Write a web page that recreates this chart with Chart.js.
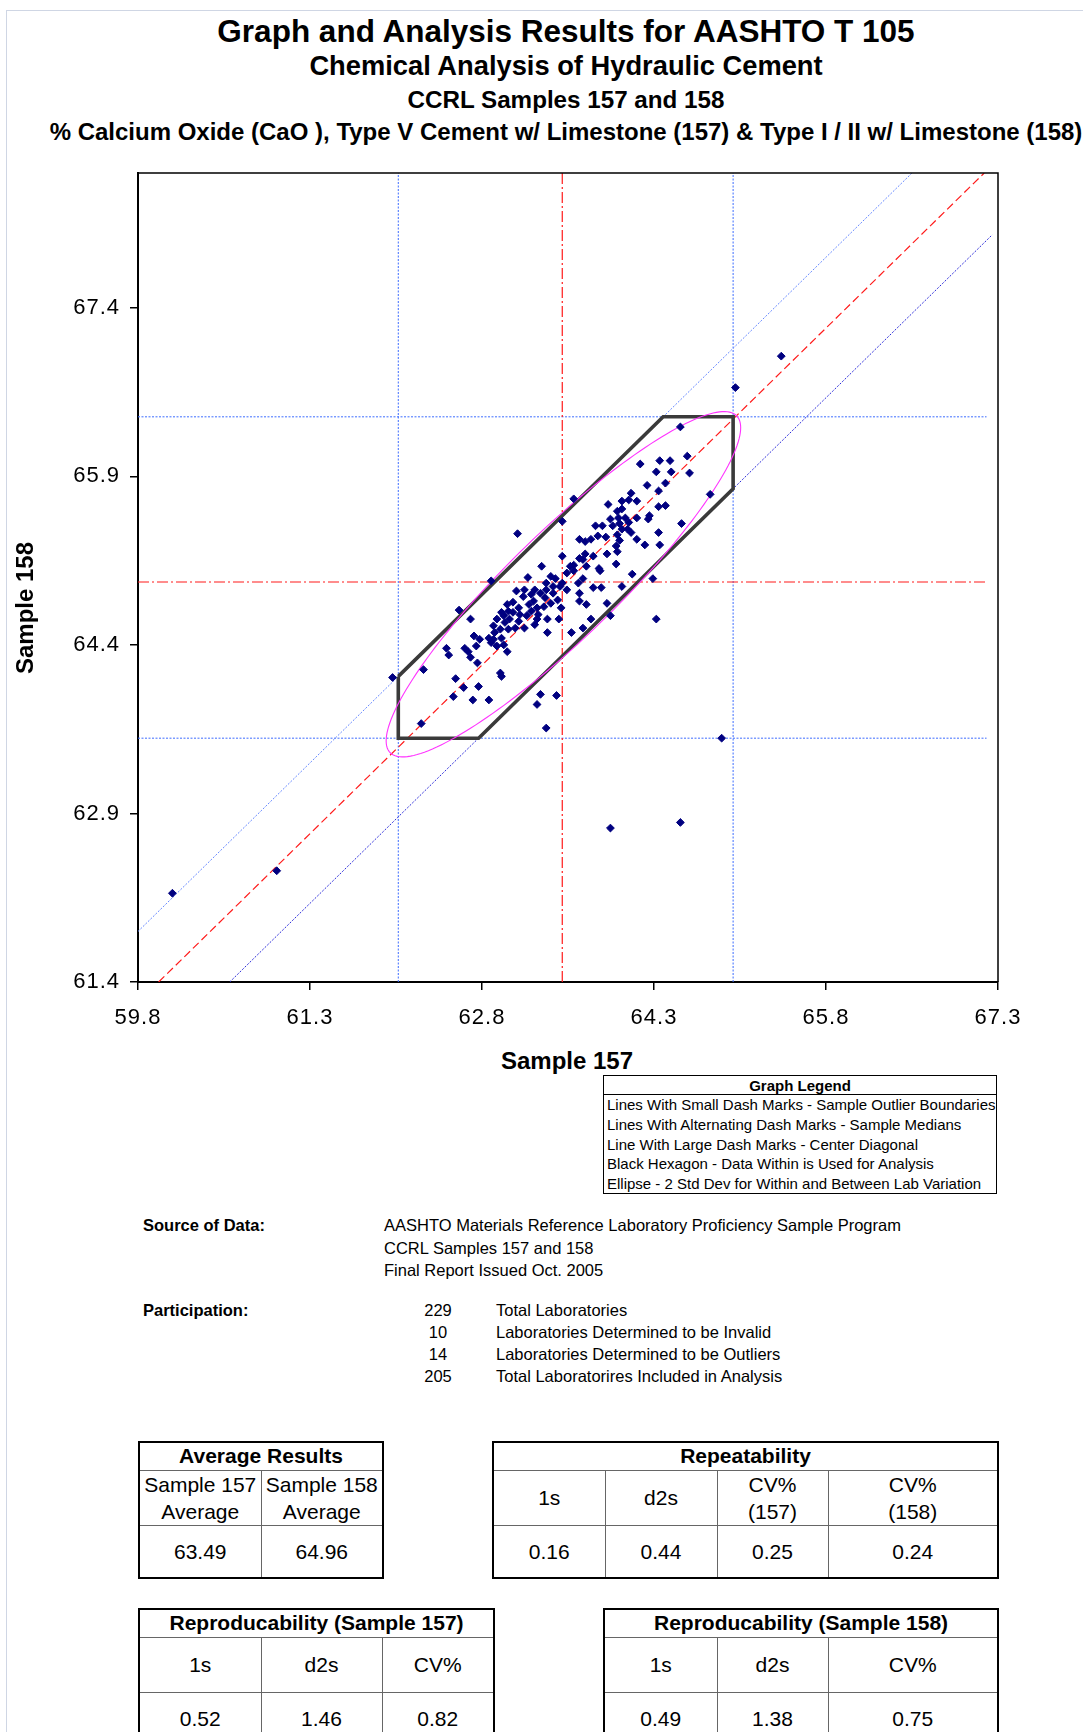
<!DOCTYPE html>
<html>
<head>
<meta charset="utf-8">
<script src="https://cdn.jsdelivr.net/npm/chart.js@4.4.1/dist/chart.umd.min.js"></script>
<style>
html,body{margin:0;padding:0;background:#fff;overflow:hidden;width:1083px;height:1732px;}
body{position:relative;font-family:'Liberation Sans',Arial,sans-serif;color:#000;}
.frame{position:absolute;left:6px;top:10px;width:1200px;height:1900px;border-left:1px solid #cfd6e4;border-top:1px solid #cfd6e4;}
.t{position:absolute;left:0;width:1132px;text-align:center;font-weight:bold;white-space:nowrap;}
.abs{position:absolute;white-space:nowrap;}
#chart{position:absolute;left:0;top:0;}
.axt{position:absolute;width:200px;height:30px;line-height:30px;text-align:center;font-weight:bold;font-size:24px;white-space:nowrap;}
#legend{position:absolute;left:603px;top:1075px;width:394px;height:119px;border:1px solid #000;box-sizing:border-box;font-size:15px;}
#legend .hd{height:19px;line-height:19px;text-align:center;font-weight:bold;border-bottom:1px solid #000;box-sizing:border-box;}
#legend .row{height:19.8px;line-height:19.8px;padding-left:3px;white-space:nowrap;}
table.tb{position:absolute;border-collapse:collapse;table-layout:fixed;border:2px solid #000;}
table.tb td, table.tb th{border:1px solid #666;text-align:center;padding:0;font-size:21px;line-height:27px;font-weight:normal;overflow:hidden;white-space:nowrap;}
table.tb th{font-weight:bold;line-height:24px;}
</style>
</head>
<body>
<div class="frame"></div>
<div class="t" style="top:13px;height:36px;line-height:36px;font-size:31.5px;">Graph and Analysis Results for AASHTO T 105</div>
<div class="t" style="top:50px;height:32px;line-height:32px;font-size:27.3px;">Chemical Analysis of Hydraulic Cement</div>
<div class="t" style="top:83.5px;height:32px;line-height:32px;font-size:24.2px;">CCRL Samples 157 and 158</div>
<div class="t" style="top:115.5px;height:32px;line-height:32px;font-size:24px;">% Calcium Oxide (CaO ), Type V Cement w/ Limestone (157) &amp; Type I / II w/ Limestone (158)</div>

<canvas id="chart" width="1083" height="1040"></canvas>
<div class="axt" style="left:-75px;top:593px;transform:rotate(-90deg);">Sample 158</div>
<div class="axt" style="left:467px;top:1046px;">Sample 157</div>

<div id="legend">
  <div class="hd">Graph Legend</div>
  <div class="row">Lines With Small Dash Marks - Sample Outlier Boundaries</div>
  <div class="row">Lines With Alternating Dash Marks - Sample Medians</div>
  <div class="row">Line With Large Dash Marks - Center Diagonal</div>
  <div class="row">Black Hexagon - Data Within is Used for Analysis</div>
  <div class="row">Ellipse - 2 Std Dev for Within and Between Lab Variation</div>
</div>

<div class="abs" style="left:143px;top:1214px;line-height:22.5px;font-size:16.5px;font-weight:bold;">Source of Data:</div>
<div class="abs" style="left:384px;top:1214px;line-height:22.5px;font-size:16.5px;">AASHTO Materials Reference Laboratory Proficiency Sample Program<br>CCRL Samples 157 and 158<br>Final Report Issued Oct. 2005</div>
<div class="abs" style="left:143px;top:1299px;line-height:22px;font-size:16.5px;font-weight:bold;">Participation:</div>
<div class="abs" id="partNums" style="left:408px;top:1299px;width:60px;text-align:center;line-height:22px;font-size:16.5px;"></div>
<div class="abs" id="partText" style="left:496px;top:1299px;line-height:22px;font-size:16.5px;"></div>

<table class="tb" id="tAvg" style="left:138px;top:1441px;width:244px;">
  <colgroup><col style="width:122px"><col style="width:122px"></colgroup>
  <tr style="height:28px"><th colspan="2">Average Results</th></tr>
  <tr style="height:55px"><td>Sample 157<br>Average</td><td>Sample 158<br>Average</td></tr>
  <tr style="height:53px" class="vals"></tr>
</table>
<table class="tb" id="tRep" style="left:492px;top:1441px;width:505px;">
  <colgroup><col style="width:112px"><col style="width:112px"><col style="width:111px"><col style="width:170px"></colgroup>
  <tr style="height:28px"><th colspan="4">Repeatability</th></tr>
  <tr style="height:55px"><td>1s</td><td>d2s</td><td>CV%<br>(157)</td><td>CV%<br>(158)</td></tr>
  <tr style="height:53px" class="vals"></tr>
</table>
<table class="tb" id="tR157" style="left:138px;top:1608px;width:355px;">
  <colgroup><col style="width:122px"><col style="width:121px"><col style="width:112px"></colgroup>
  <tr style="height:28px"><th colspan="3">Reproducability (Sample 157)</th></tr>
  <tr style="height:55px"><td>1s</td><td>d2s</td><td>CV%</td></tr>
  <tr style="height:53px" class="vals"></tr>
</table>
<table class="tb" id="tR158" style="left:603px;top:1608px;width:394px;">
  <colgroup><col style="width:113px"><col style="width:111px"><col style="width:170px"></colgroup>
  <tr style="height:28px"><th colspan="3">Reproducability (Sample 158)</th></tr>
  <tr style="height:55px"><td>1s</td><td>d2s</td><td>CV%</td></tr>
  <tr style="height:53px" class="vals"></tr>
</table>

<script>
// ---------------- data ----------------
const sample157 = [
64.53,64.18,64.35,64.44,64.59,64.32,64.45,64.61,64.24,64.40,
64.34,64.79,64.10,63.60,63.90,64.02,64.08,64.15,64.02,64.34,
64.40,63.98,63.92,63.99,64.05,64.15,64.26,64.25,63.50,63.79,
63.85,64.00,64.54,64.07,64.10,63.98,64.34,63.81,63.88,63.65,
63.70,63.75,64.00,64.15,63.97,64.22,64.35,63.98,63.89,63.70,
63.77,63.50,63.65,63.60,63.71,63.82,63.97,63.83,63.32,63.54,
63.60,64.11,64.29,63.68,63.44,63.36,63.77,63.84,64.02,63.65,
63.36,
63.42,63.48,63.64,63.57,63.68,63.94,64.08,64.02,
63.20,62.88,63.10,63.17,63.23,63.16,63.21,63.25,63.28,63.34,
63.40,63.46,63.49,63.47,63.37,63.28,63.37,63.12,63.07,63.03,
62.97,63.04,63.12,63.00,62.93,62.90,62.96,63.03,63.09,63.17,
62.70,62.73,62.86,62.90,62.97,62.93,63.02,62.65,62.75,62.70,
62.76,62.96,62.97,62.77,63.71,63.65,63.75,63.68,63.89,63.31,
63.26,63.42,63.35,63.19,63.29,63.23,
62.99,63.07,63.02,63.13,62.91,62.88,62.99,62.78,63.26,63.50,63.54,63.40,
62.60,62.49,62.51,62.68,62.29,62.02,62.57,62.64,62.55,62.72,
62.86,63.31,63.45,63.28,63.36,62.27,
63.11,64.32,63.92,64.89,63.58,65.41,65.01,60.10,61.01,63.92,64.53
];
const sample158 = [
66.34,66.01,66.04,66.04,66.08,65.94,65.94,65.93,65.82,65.84,
65.77,65.74,65.75,65.70,65.65,65.68,65.69,65.68,65.61,65.63,
65.64,65.59,65.52,65.53,65.53,65.53,65.55,65.52,65.50,65.46,
65.46,65.48,65.48,65.43,65.40,65.38,65.40,65.37,65.36,65.34,
65.32,65.34,65.33,65.34,65.28,65.29,65.29,65.23,65.21,65.21,
65.19,65.19,65.17,65.11,65.10,65.08,65.12,65.06,65.10,65.04,
65.06,65.03,64.99,64.99,64.99,64.95,64.91,64.91,64.92,64.86,
64.89,
64.86,64.92,64.95,65.10,65.16,65.46,65.49,65.43,
65.00,64.97,64.88,64.89,64.85,64.83,64.76,64.79,64.73,64.74,
64.77,64.80,64.73,64.63,64.63,64.63,64.51,64.73,64.69,64.70,
64.69,64.63,64.61,64.60,64.63,64.57,64.54,64.54,64.55,64.55,
64.63,64.48,64.46,64.45,64.46,64.39,64.34,64.37,64.39,64.29,
64.24,64.15,64.12,64.03,64.76,64.79,64.63,64.55,64.77,64.86,
64.89,64.92,64.82,64.66,64.67,64.70,
64.66,64.78,64.76,64.67,64.51,64.42,64.40,64.45,64.58,64.95,64.89,65.01,
64.71,64.37,64.31,64.34,64.18,64.11,64.10,64.02,63.94,63.91,
63.91,63.96,63.95,63.87,63.66,63.70,
65.39,64.63,64.66,63.57,64.51,66.97,66.69,62.19,62.39,62.77,62.82
];

const xTicks = [59.8, 61.3, 62.8, 64.3, 65.8, 67.3];
const yTicks = [61.4, 62.9, 64.4, 65.9, 67.4];
const xRange = [59.8, 67.3];
const yRange = [61.4, 68.6];
const horizLineEnd = 67.2;

const median157 = 63.50;
const median158 = 64.96;
const bounds157 = [62.07, 64.99];   // outlier boundaries, sample 157
const bounds158 = [63.57, 66.43];   // outlier boundaries, sample 158
const diagUpper = 2.05;             // y = x + offset
const diagCenter = 1.42;
const diagLower = 0.80;
const diagCenterEnd = 67.18;
const diagLowerEnd = 67.25;

const ellipseCenter = [63.51, 64.94];
const ellipseMajorHalf = [1.51, 1.50];  // half major axis vector (157, 158)
const ellipseMinorHalf = 0.47;          // half minor axis length

const partNumbers = ['229', '10', '14', '205'];
const partLabels = ['Total Laboratories', 'Laboratories Determined to be Invalid',
                    'Laboratories Determined to be Outliers', 'Total Laboratorires Included in Analysis'];
const averageResults = ['63.49', '64.96'];
const repeatability = ['0.16', '0.44', '0.25', '0.24'];
const reproducibility157 = ['0.52', '1.46', '0.82'];
const reproducibility158 = ['0.49', '1.38', '0.75'];

// ---------------- text blocks ----------------
document.getElementById('partNums').innerHTML = partNumbers.join('<br>');
document.getElementById('partText').innerHTML = partLabels.join('<br>');
function fillVals(id, arr){
  const tr = document.querySelector('#' + id + ' tr.vals');
  tr.innerHTML = arr.map(v => '<td>' + v + '</td>').join('');
}
fillVals('tAvg', averageResults);
fillVals('tRep', repeatability);
fillVals('tR157', reproducibility157);
fillVals('tR158', reproducibility158);

// ---------------- chart ----------------
const points = sample157.map((x, i) => ({x: x, y: sample158[i]}));
const hexagon = [
  {x: bounds157[0], y: bounds157[0] + diagUpper},
  {x: bounds158[1] - diagUpper, y: bounds158[1]},
  {x: bounds157[1], y: bounds158[1]},
  {x: bounds157[1], y: bounds157[1] + diagLower},
  {x: bounds158[0] - diagLower, y: bounds158[0]},
  {x: bounds157[0], y: bounds158[0]},
  {x: bounds157[0], y: bounds157[0] + diagUpper}
];

function lineDS(data, color, dash, width){
  return {type: 'scatter', data: data, showLine: true, borderColor: color, borderWidth: width || 1,
          borderDash: dash, pointRadius: 0, fill: false, tension: 0};
}

const datasets = [
  {type: 'scatter', data: points, pointStyle: 'rectRot', pointRadius: 3.9, borderWidth: 1,
   backgroundColor: '#000080', borderColor: '#000080', showLine: false},
  lineDS(hexagon, '#3a3a3a', [], 3.6),
  lineDS([{x: yRange[0] - diagCenter, y: yRange[0]}, {x: diagCenterEnd, y: diagCenterEnd + diagCenter}], '#ff1a1a', [8, 4], 1.2),
  lineDS([{x: median157, y: yRange[0]}, {x: median157, y: yRange[1]}], '#ff1a1a', [11, 3, 2, 3], 1.2),
  lineDS([{x: xRange[0], y: median158}, {x: horizLineEnd, y: median158}], '#ff1a1a', [11, 3, 2, 3], 1.2),
  lineDS([{x: xRange[0], y: xRange[0] + diagUpper}, {x: yRange[1] - diagUpper, y: yRange[1]}], '#6688ff', [2, 1.5], 1),
  lineDS([{x: yRange[0] - diagLower, y: yRange[0]}, {x: diagLowerEnd, y: diagLowerEnd + diagLower}], '#2a2ad8', [2, 1.5], 1),
  lineDS([{x: bounds157[0], y: yRange[0]}, {x: bounds157[0], y: yRange[1]}], '#3d6cff', [2, 1.5], 1),
  lineDS([{x: bounds157[1], y: yRange[0]}, {x: bounds157[1], y: yRange[1]}], '#3d6cff', [2, 1.5], 1),
  lineDS([{x: xRange[0], y: bounds158[0]}, {x: horizLineEnd, y: bounds158[0]}], '#3d6cff', [2, 1.5], 1),
  lineDS([{x: xRange[0], y: bounds158[1]}, {x: horizLineEnd, y: bounds158[1]}], '#3d6cff', [2, 1.5], 1)
];

const ellipsePlugin = {
  id: 'ellipse',
  beforeDatasetDraw(chart, args){
    if (args.index !== 0) return;
    const xs = chart.scales.x, ys = chart.scales.y, ctx = chart.ctx;
    const a = ellipseMajorHalf;
    const len = Math.hypot(a[0], a[1]);
    const b = [-a[1] / len * ellipseMinorHalf, a[0] / len * ellipseMinorHalf];
    ctx.save();
    ctx.beginPath();
    for (let k = 0; k <= 180; k++){
      const t = k / 180 * Math.PI * 2;
      const vx = ellipseCenter[0] + Math.cos(t) * a[0] + Math.sin(t) * b[0];
      const vy = ellipseCenter[1] + Math.cos(t) * a[1] + Math.sin(t) * b[1];
      const px = xs.getPixelForValue(vx), py = ys.getPixelForValue(vy);
      if (k === 0) ctx.moveTo(px, py); else ctx.lineTo(px, py);
    }
    ctx.closePath();
    ctx.strokeStyle = '#ff33ff';
    ctx.lineWidth = 1.1;
    ctx.stroke();
    ctx.restore();
  }
};
const framePlugin = {
  id: 'frame',
  beforeDraw(chart){ try { chart.ctx.letterSpacing = '1px'; } catch(e){} },
  afterDatasetsDraw(chart){
    const c = chart.chartArea, ctx = chart.ctx;
    ctx.save();
    ctx.strokeStyle = '#000';
    ctx.lineWidth = 1.5;
    ctx.beginPath();
    ctx.moveTo(c.left, c.top); ctx.lineTo(c.right, c.top); ctx.lineTo(c.right, c.bottom);
    ctx.stroke();
    ctx.restore();
  }
};

new Chart(document.getElementById('chart'), {
  type: 'scatter',
  data: {datasets: datasets},
  plugins: [ellipsePlugin, framePlugin],
  options: {
    responsive: false,
    animation: false,
    devicePixelRatio: 1,
    events: [],
    layout: {padding: {left: 0, right: 85, top: 173, bottom: 0}},
    plugins: {legend: {display: false}, tooltip: {enabled: false}, title: {display: false}},
    scales: {
      x: {
        type: 'linear', min: xRange[0], max: xRange[1],
        afterBuildTicks: s => { s.ticks = xTicks.map(v => ({value: v})); },
        afterFit: s => { s.height = 58; },
        grid: {display: true, drawOnChartArea: false, drawTicks: true, tickLength: 8, color: '#000', lineWidth: 1.5},
        border: {display: true, color: '#000', width: 2},
        ticks: {autoSkip: false, maxRotation: 0, padding: 15, color: '#000',
                font: {family: "'Liberation Sans', Arial, sans-serif", size: 22},
                callback: v => Number(v).toFixed(1)}
      },
      y: {
        type: 'linear', min: yRange[0], max: yRange[1],
        afterBuildTicks: s => { s.ticks = yTicks.map(v => ({value: v})); },
        afterFit: s => { s.width = 138; },
        grid: {display: true, drawOnChartArea: false, drawTicks: true, tickLength: 8, color: '#000', lineWidth: 1.5},
        border: {display: true, color: '#000', width: 2},
        ticks: {autoSkip: false, padding: 10, color: '#000',
                font: {family: "'Liberation Sans', Arial, sans-serif", size: 22},
                callback: v => Number(v).toFixed(1)}
      }
    }
  }
});
</script>
</body>
</html>
